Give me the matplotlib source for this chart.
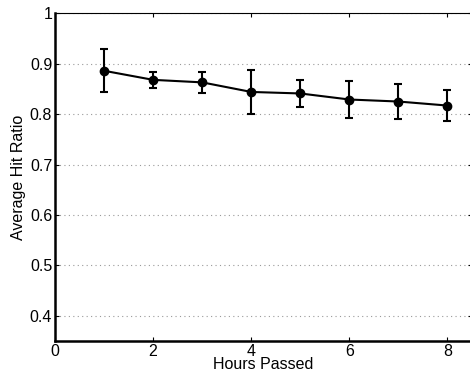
import matplotlib
matplotlib.use("Agg")
import matplotlib.pyplot as plt
import numpy as np

plt.rcParams['font.family'] = ['Liberation Sans', 'DejaVu Sans']

# values
hours = [1, 2, 3, 4, 5, 6, 7, 8]
hit_ratio = [0.886, 0.868, 0.863, 0.844, 0.841, 0.829, 0.825, 0.817]
hit_err = [0.043, 0.016, 0.021, 0.044, 0.026, 0.036, 0.035, 0.030]
x_ticks = [0, 2, 4, 6, 8]
y_ticks = [0.4, 0.5, 0.6, 0.7, 0.8, 0.9, 1.0]
y_labels = ['0.4', '0.5', '0.6', '0.7', '0.8', '0.9', '1']

fig = plt.figure(figsize=(4.7, 3.78), dpi=100)
ax = fig.add_axes([55/470, 1 - 341/378, 417/470, (341 - 13.3)/378])

ax.errorbar(hours, hit_ratio, yerr=hit_err, color='black', lw=1.5,
            marker='o', ms=6, capsize=3, elinewidth=1.5, capthick=1.5)

ax.set_xlim(0, 8.5)
ax.set_ylim(0.35, 1.0)
ax.set_xticks(x_ticks)
ax.set_yticks(y_ticks)
ax.set_yticklabels(y_labels)
ax.grid(axis='y', ls=(0, (1, 3)), color='#999999', lw=0.8)

ax.tick_params(direction='in', length=3, width=0.8, top=True, right=True,
               labelsize=11.5, pad=2)
ax.spines['left'].set_linewidth(1.8)
ax.spines['bottom'].set_linewidth(1.8)
ax.spines['top'].set_linewidth(0.8)
ax.spines['right'].set_linewidth(0.8)

ax.set_xlabel('Hours Passed', fontsize=11.5, labelpad=-1)
ax.set_ylabel('Average Hit Ratio', fontsize=11.5, labelpad=3)

fig.savefig('out.png', dpi=100)
